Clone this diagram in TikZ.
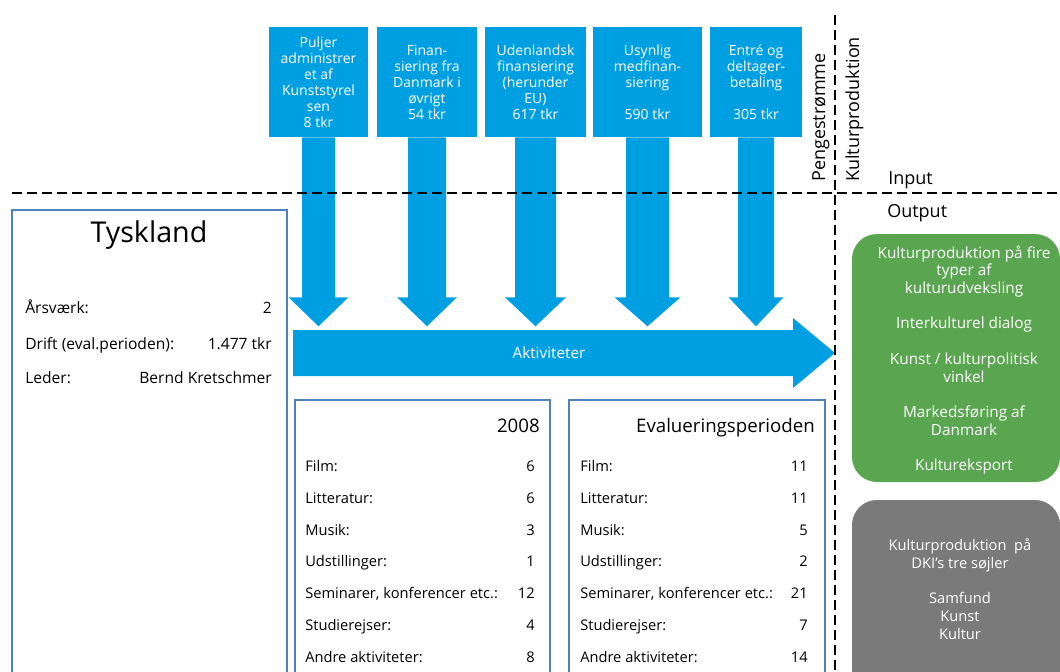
\documentclass[tikz,border=0pt]{standalone}
\usepackage{fontspec}
\setmainfont{Open Sans}
\usetikzlibrary{calc}

\definecolor{flowblue}{RGB}{0,159,225}
\definecolor{frameblue}{RGB}{79,129,189}
\definecolor{outgreen}{RGB}{90,166,80}
\definecolor{outgrey}{RGB}{122,122,122}

% Money-flow arrow hanging below a funding box:
% #1 box node, #2 half stem width, #3 half head width (all in px units)
\newcommand\fundarrow[3]{%
  \fill[flowblue] ($(#1.south)+(-#2,0)$) -- ($(#1.south)+(#2,0)$)
    -- ($(#1.south)+(#2,160)$) -- ($(#1.south)+(#3,160)$)
    -- ($(#1.south)+(0,189)$) -- ($(#1.south)+(-#3,160)$)
    -- ($(#1.south)+(-#2,160)$) -- cycle;}

\begin{document}
\begin{tikzpicture}[x=0.75pt,y=-0.75pt,
  fund/.style={fill=flowblue, text=white, align=center, inner sep=0pt,
    minimum height=82.5pt, font=\fontsize{10.5}{12}\selectfont},
  frame/.style={draw=frameblue, line width=2.2pt},
  row/.style={inner sep=0pt, font=\fontsize{11}{13}\selectfont},
  keyrow/.style={inner sep=0pt, font=\fontsize{11.7}{14}\selectfont},
  divider/.style={line width=1.5pt, dash pattern=on 7.5pt off 3.75pt},
  outtext/.style={text=white, align=center, inner sep=0pt,
    font=\fontsize{11.5}{13.3}\selectfont},
  axislabel/.style={inner sep=0pt, font=\fontsize{13.5}{16}\selectfont}]

\useasboundingbox (0,0) rectangle (1060,671);
\clip (0,0) rectangle (1060,671);

% funding sources
\node[fund, minimum width=74.25pt] (b1) at (318.5,82)
  {Puljer\\administrer\\et af\\Kunststyrel\\sen\\8 tkr};
\node[fund, minimum width=75pt] (b2) at (427,82)
  {Finan-\\siering fra\\Danmark i\\øvrigt\\54 tkr};
\node[fund, minimum width=75.75pt] (b3) at (535.5,82)
  {Udenlandsk\\finansiering\\(herunder\\EU)\\617 tkr};
\node[fund, minimum width=81.75pt] (b4) at (647.5,82)
  {Usynlig\\medfinan-\\siering\\[12pt]590 tkr};
\node[fund, minimum width=69pt] (b5) at (756,82)
  {Entré og\\deltager-\\betaling\\[12pt]305 tkr};

\fundarrow{b1}{16.5}{30}
\fundarrow{b2}{19}{30}
\fundarrow{b3}{20.5}{30.5}
\fundarrow{b4}{21.5}{33}
\fundarrow{b5}{18}{27.5}

% activities arrow
\fill[flowblue] (293,330) -- (793,330) -- (793,318) -- (835,353)
  -- (793,388) -- (793,376) -- (293,376) -- cycle;
\node[text=white, inner sep=0pt, font=\fontsize{11.5}{13}\selectfont] (akt)
  at (549,353) {Aktiviteter};

% input / output dividers
\draw[divider] (12,193) -- (1060,193);
\draw[divider] (835,15) -- (835,671);
\node[axislabel, rotate=90, anchor=base west] (peng) at (825,182) {Pengestrømme};
\node[axislabel, rotate=90, anchor=base west] (kprod) at (859,182) {Kulturproduktion};
\node[axislabel, anchor=base west] (inp) at (888,184) {Input};
\node[axislabel, anchor=base west] (outp) at (887,217) {Output};

% country box
\draw[frame] (12,210) rectangle (287,700);
\node[inner sep=0pt, anchor=base, font=\fontsize{21.5}{25}\selectfont] (land) at (149,242) {Tyskland};
\node[keyrow, anchor=base west] (k1) at (25,313) {Årsværk:};
\node[keyrow, anchor=base east] (v1) at (272,313) {2};
\node[keyrow, anchor=base west] (k2) at (25,349) {Drift (eval.perioden):};
\node[keyrow, anchor=base east] (v2) at (272,349) {1.477 tkr};
\node[keyrow, anchor=base west] (k3) at (25,383) {Leder:};
\node[keyrow, anchor=base east] (v3) at (272,383) {Bernd Kretschmer};

% activity tables
\draw[frame] (295,400) rectangle (550,700);
\draw[frame] (569,400) rectangle (825,700);
\node[inner sep=0pt, anchor=base east, font=\fontsize{14}{17}\selectfont] (ya) at (540,432) {2008};
\node[inner sep=0pt, anchor=base east, font=\fontsize{14}{17}\selectfont] (yb) at (815,432) {Evalueringsperioden};

\foreach \y/\lab/\a/\b [count=\i] in {
    471/Film:/6/11,
    503/Litteratur:/6/11,
    535/Musik:/3/5,
    566/Udstillinger:/1/2,
    598/{Seminarer, konferencer etc.:}/12/21,
    630/Studierejser:/4/7,
    662/Andre aktiviteter:/8/14}{
  \node[row, anchor=base west] (la\i) at (305,\y) {\lab};
  \node[row, anchor=base east] (va\i) at (535,\y) {\a};
  \node[row, anchor=base west] (lb\i) at (580,\y) {\lab};
  \node[row, anchor=base east] (vb\i) at (808,\y) {\b};
}

% output boxes
\fill[outgreen, rounded corners=18.75pt] (852,234) rectangle (1060,482);
\node[outtext] (gout) at (964,360)
  {Kulturproduktion på fire\\typer af\\kulturudveksling\\[13.3pt]
   Interkulturel dialog\\[13.3pt]
   Kunst / kulturpolitisk\\vinkel\\[13.3pt]
   Markedsføring af\\Danmark\\[13.3pt]
   Kultureksport};
\fill[outgrey, rounded corners=18.75pt] (852,500) rectangle (1060,700);
\node[outtext, font=\fontsize{11}{13.3}\selectfont] (kout) at (960,589)
  {Kulturproduktion\ \ på\\DKI’s tre søjler\\[13.3pt]
   Samfund\\Kunst\\Kultur};
\end{tikzpicture}
\end{document}
